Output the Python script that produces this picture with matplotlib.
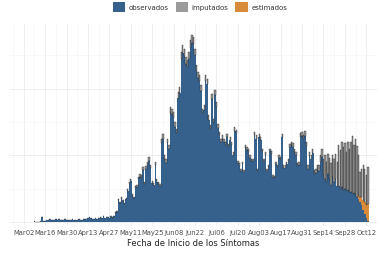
import numpy as np
import pandas as pd
import matplotlib
matplotlib.use("Agg")
import matplotlib.pyplot as plt
from matplotlib.patches import Patch

# casos diarios por fecha de inicio de sintomas (total = observados + imputados + estimados)
inicio = "2020-03-09"
totales = [
    10, 0, 5, 0, 8, 75, 15,
    20, 35, 30, 40, 25, 35, 30,
    40, 30, 40, 35, 25, 30, 40,
    35, 30, 35, 30, 40, 35, 30,
    25, 40, 35, 30, 45, 50, 45,
    55, 75, 60, 50, 45, 55, 50,
    60, 70, 55, 90, 60, 75, 80,
    65, 85, 70, 90, 150, 165, 345,
    300, 375, 330, 280, 360, 500, 600,
    650, 420, 380, 540, 560, 680, 720,
    700, 820, 600, 840, 900, 975, 860,
    620, 580, 900, 640, 600, 570, 1250,
    1320, 1000, 940, 1245, 1150, 1720, 1700,
    1650, 1500, 1400, 1950, 2025, 2550, 2650,
    2600, 2470, 2430, 2550, 2730, 2800, 2780,
    2600, 2350, 2250, 2200, 2050, 1700, 1750,
    2200, 2150, 1600, 1450, 1920, 1550, 1980,
    1800, 1470, 1350, 1250, 1300, 1250, 1200,
    1320, 1170, 1275, 1200, 1050, 1420, 1380,
    920, 880, 800, 900, 780, 1150, 1120,
    1100, 1000, 950, 950, 1350, 1300, 800,
    1320, 1280, 1100, 950, 1050, 800, 850,
    1100, 1060, 700, 690, 900, 850, 1000,
    980, 1320, 850, 850, 900, 950, 1170,
    1200, 1180, 1100, 1050, 880, 900, 1330,
    1350, 1300, 1360, 1200, 850, 1050, 1000,
    1100, 780, 800, 850, 850, 1000, 1100,
    950, 1000, 900, 1020, 960, 880, 1000,
    940, 1020, 900, 1150, 1080, 1200, 1120,
    1180, 1050, 1200, 1100, 1200, 1290, 1150,
    1250, 1140, 1000, 750, 800, 850, 800,
    700, 830,
]
imputados = [
    0, 0, 0, 0, 0, 0, 0,
    0, 0, 0, 0, 0, 0, 0,
    0, 0, 0, 0, 0, 0, 0,
    0, 0, 0, 0, 0, 0, 0,
    0, 0, 0, 0, 0, 0, 0,
    0, 0, 0, 0, 0, 0, 0,
    0, 5, 0, 5, 0, 5, 5,
    5, 5, 5, 5, 10, 10, 20,
    20, 25, 20, 15, 20, 30, 35,
    40, 25, 20, 30, 30, 40, 40,
    40, 45, 30, 45, 50, 55, 45,
    35, 30, 50, 35, 30, 30, 70,
    70, 55, 50, 65, 60, 80, 80,
    75, 70, 65, 90, 95, 110, 120,
    110, 100, 100, 110, 120, 120, 110,
    100, 90, 90, 85, 80, 70, 70,
    85, 80, 65, 60, 75, 60, 75,
    70, 55, 50, 50, 50, 50, 45,
    50, 45, 50, 45, 40, 55, 50,
    35, 35, 30, 35, 30, 45, 45,
    45, 40, 35, 35, 50, 50, 30,
    50, 50, 40, 35, 40, 30, 30,
    40, 40, 25, 25, 35, 30, 40,
    40, 50, 35, 35, 35, 40, 50,
    50, 50, 50, 45, 40, 40, 60,
    60, 60, 70, 60, 50, 60, 60,
    70, 60, 60, 70, 80, 100, 120,
    250, 350, 300, 300, 320, 320, 320,
    340, 370, 360, 610, 580, 680, 640,
    680, 590, 720, 650, 750, 870, 720,
    850, 760, 600, 370, 430, 520, 500,
    440, 560,
]
# estimados solo en los ultimos dias
estimados_final = [50, 80, 120, 150, 180, 200, 250]

tot = np.array(totales, dtype=float)
imp = np.array(imputados, dtype=float)
est = np.zeros(len(tot))
est[-len(estimados_final):] = estimados_final
obs = tot - imp - est

fechas = pd.date_range(inicio, periods=len(tot), freq="D")

c_obs = "#35618C"
c_imp = "#9B9B9B"
c_est = "#D98B3C"

fig = plt.figure(figsize=(3.8, 2.55), dpi=100)
ax = fig.add_axes([10 / 380, 1 - 227 / 255, 367 / 380, 202 / 255])

ax.bar(fechas, obs, width=1.0, color=c_obs, linewidth=0, zorder=2)
ax.bar(fechas, est, bottom=obs, width=1.0, color=c_est, linewidth=0, zorder=2)
ax.bar(fechas, imp, bottom=obs + est, width=0.9, color=c_imp,
       edgecolor="#111111", linewidth=0.25, zorder=2)

ax.set_xlim(pd.Timestamp("2020-02-22"), pd.Timestamp("2020-10-16 12:00"))
ax.set_ylim(-60, 2970)

ticks = pd.date_range("2020-03-02", "2020-10-12", freq="14D")
ax.set_xticks(ticks)
ax.set_xticklabels([t.strftime("%b%d") for t in ticks])
ax.set_xticks(pd.date_range("2020-02-24", "2020-10-19", freq="14D"), minor=True)
ax.set_yticks([0, 1000, 2000])
ax.set_yticks([500, 1500, 2500], minor=True)
ax.set_yticklabels([])

ax.grid(True, which="major", color="#EBEBEB", linewidth=0.6, zorder=0)
ax.grid(True, which="minor", color="#F3F3F3", linewidth=0.4, zorder=0)
ax.set_axisbelow(True)
for s in ax.spines.values():
    s.set_visible(False)
ax.tick_params(axis="both", which="both", length=0)
ax.tick_params(axis="x", labelsize=4.9, colors="#4D4D4D", pad=2.5)

ax.set_xlabel("Fecha de Inicio de los Síntomas", fontsize=6, color="#222222",
              labelpad=1.5)

manijas = [Patch(facecolor=c_obs, label="observados"),
           Patch(facecolor=c_imp, label="imputados"),
           Patch(facecolor=c_est, label="estimados")]
fig.legend(handles=manijas, loc="center", bbox_to_anchor=(200 / 380, 1 - 8 / 255),
           ncol=3, frameon=False, fontsize=5, handlelength=1.8, handleheight=1.8,
           handletextpad=0.5, columnspacing=1.0, labelcolor="#333333")

fig.savefig("out.png", dpi=100, facecolor="white")
